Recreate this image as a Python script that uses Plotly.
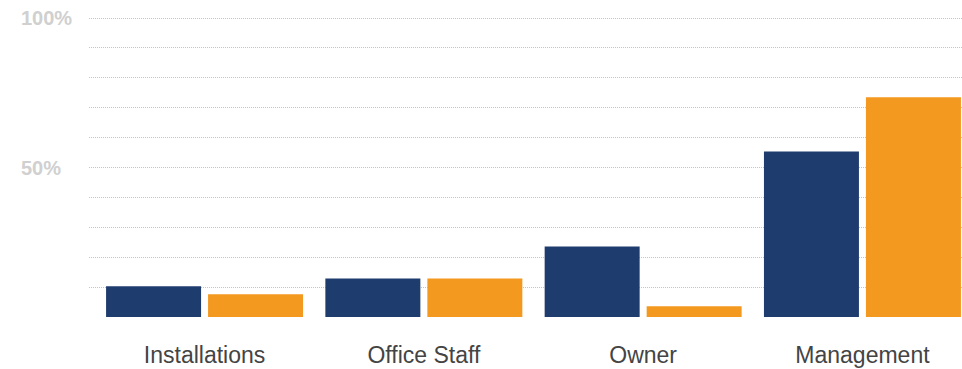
import plotly.graph_objects as go

categories = ["Installations", "Office Staff", "Owner", "Management"]
series_a = [10.3, 12.9, 23.6, 55.4]
series_b = [7.6, 12.9, 3.6, 73.5]
grid_vals = [0, 10, 20, 30, 40, 50, 60, 70, 80, 90, 100]
label_vals = [50, 100]

BLUE = "#1f3c6f"
ORANGE = "#f4991f"
FONT = "Liberation Sans, Arial, Helvetica, sans-serif"

fig = go.Figure()
fig.add_trace(go.Bar(x=categories, y=series_a, marker=dict(color=BLUE, line=dict(width=0)),
                     hoverinfo="skip"))
fig.add_trace(go.Bar(x=categories, y=series_b, marker=dict(color=ORANGE, line=dict(width=0)),
                     hoverinfo="skip"))

W, H = 962, 369
ML, MR, MT, MB = 89, 0, 16, 52
plot_w = W - ML - MR

for v in label_vals:
    fig.add_annotation(
        x=(20 - ML) / plot_w, xref="paper", xanchor="left",
        y=v, yref="y", yanchor="middle",
        text=f"{v}%", showarrow=False,
        font=dict(family=FONT, size=20, color="#d0d0d0", weight="bold"),
        borderpad=0,
    )

fig.update_layout(
    width=W, height=H,
    margin=dict(l=ML, r=MR, t=MT, b=MB, pad=0),
    paper_bgcolor="white", plot_bgcolor="white",
    barmode="group", bargap=0.0698, bargroupgap=0.0686,
    showlegend=False,
    font=dict(family=FONT),
)
fig.update_xaxes(
    type="category", range=[-0.527, 3.454],
    showgrid=False, zeroline=False, showline=False, ticks="",
    tickfont=dict(family=FONT, size=23, color="#444444"),
    ticklabelstandoff=22,
)
fig.update_yaxes(
    range=[0, 100.7], tickvals=grid_vals, showticklabels=False,
    showgrid=True, gridcolor="#c4c4c4", gridwidth=1, griddash="1px,1px",
    zeroline=False, showline=False, ticks="",
)

fig.write_html("out.html")
